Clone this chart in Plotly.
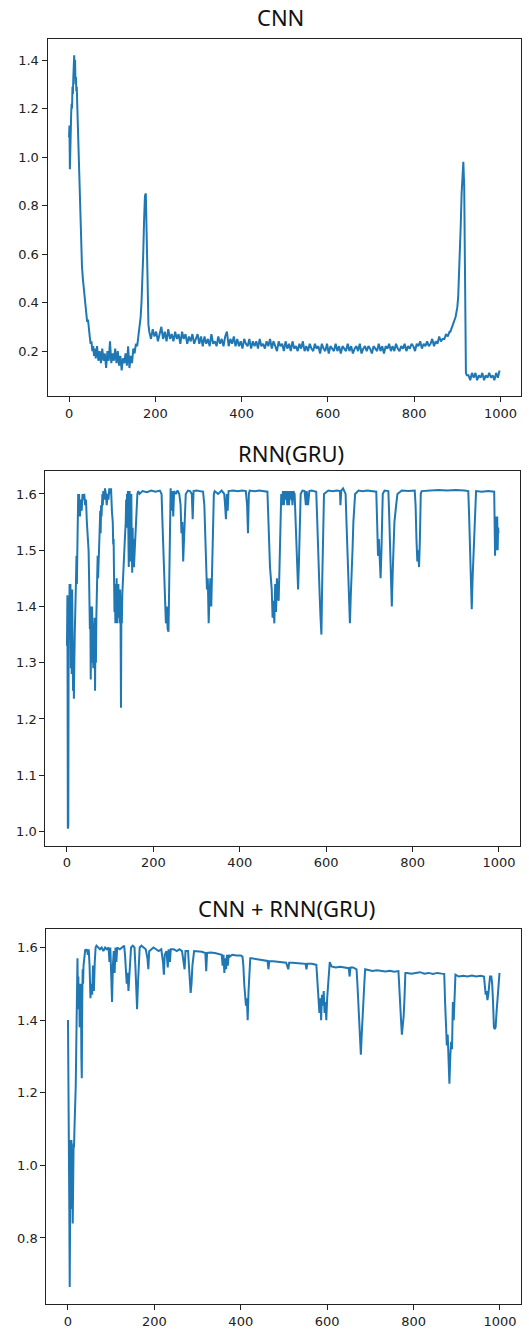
import plotly.graph_objects as go

# ---------------- data ----------------
x_tick_vals = [0, 200, 400, 600, 800, 1000]
x_tick_text = ["0", "200", "400", "600", "800", "1000"]

cnn_yticks = [0.2, 0.4, 0.6, 0.8, 1.0, 1.2, 1.4]
cnn_ytext = ["0.2", "0.4", "0.6", "0.8", "1.0", "1.2", "1.4"]
gru_yticks = [1.0, 1.1, 1.2, 1.3, 1.4, 1.5, 1.6]
gru_ytext = ["1.0", "1.1", "1.2", "1.3", "1.4", "1.5", "1.6"]
mix_yticks = [0.8, 1.0, 1.2, 1.4, 1.6]
mix_ytext = ["0.8", "1.0", "1.2", "1.4", "1.6"]

titles = ["CNN", "RNN(GRU)", "CNN + RNN(GRU)"]

# CNN series: sample index positions and values
cnn_x = (list(range(0, 21)) + list(range(22, 61, 2)) + list(range(62, 159, 3))
         + list(range(160, 187, 2)) + list(range(190, 883, 4))
         + list(range(884, 923, 2)) + list(range(926, 999, 4)))
cnn_y = [
    # 0..20
    1.08, 1.13, 0.95, 1.10, 1.05, 1.18, 1.22, 1.20, 1.29, 1.26, 1.33, 1.38, 1.42, 1.35, 1.40,
    1.30, 1.33, 1.27, 1.29, 1.22, 1.15,
    # 22..60
    1.02, 0.90, 0.78, 0.62, 0.55, 0.50, 0.46, 0.41, 0.38, 0.36, 0.32, 0.33, 0.27, 0.26, 0.23,
    0.24, 0.20, 0.22, 0.18, 0.21,
    # 62..158
    0.17, 0.22, 0.16, 0.20, 0.15, 0.21, 0.16, 0.19, 0.13, 0.20, 0.16, 0.24, 0.15, 0.19, 0.16,
    0.21, 0.15, 0.20, 0.14, 0.18, 0.12, 0.17, 0.15, 0.19, 0.14, 0.22, 0.13, 0.18, 0.15, 0.21,
    0.19, 0.23, 0.22,
    # 160..186
    0.25, 0.27, 0.30, 0.34, 0.40, 0.48, 0.60, 0.74, 0.84, 0.85, 0.72, 0.50, 0.31, 0.28,
    # 190..882 (step 4)
    0.25, 0.29, 0.26, 0.28, 0.24, 0.27, 0.30, 0.25, 0.28, 0.24,
    0.29, 0.25, 0.27, 0.24, 0.28, 0.25, 0.27, 0.23, 0.28, 0.25,
    0.27, 0.23, 0.26, 0.24, 0.27, 0.23, 0.25, 0.27, 0.23, 0.26,
    0.22, 0.26, 0.23, 0.25, 0.22, 0.27, 0.23, 0.24, 0.22, 0.26,
    0.23, 0.25, 0.22, 0.26, 0.28, 0.22, 0.25, 0.23, 0.26, 0.22,
    0.25, 0.22, 0.24, 0.21, 0.25, 0.23, 0.22, 0.25, 0.21, 0.24,
    0.22, 0.24, 0.21, 0.25, 0.22, 0.23, 0.21, 0.24, 0.22, 0.25,
    0.21, 0.24, 0.22, 0.20, 0.24, 0.22, 0.23, 0.20, 0.24, 0.21,
    0.23, 0.20, 0.24, 0.21, 0.22, 0.20, 0.23, 0.21, 0.24, 0.20,
    0.22, 0.20, 0.23, 0.21, 0.20, 0.23, 0.21, 0.22, 0.19, 0.23,
    0.21, 0.20, 0.23, 0.19, 0.22, 0.21, 0.20, 0.23, 0.20, 0.22,
    0.19, 0.22, 0.21, 0.20, 0.23, 0.20, 0.22, 0.19, 0.21, 0.22,
    0.20, 0.23, 0.19, 0.21, 0.22, 0.20, 0.22, 0.21, 0.19, 0.22,
    0.21, 0.20, 0.23, 0.20, 0.22, 0.19, 0.22, 0.21, 0.23, 0.20,
    0.22, 0.20, 0.23, 0.21, 0.20, 0.22, 0.21, 0.23, 0.20, 0.22,
    0.21, 0.23, 0.22, 0.20, 0.23, 0.22, 0.24, 0.21, 0.23, 0.22,
    0.24, 0.22, 0.23, 0.25, 0.22, 0.24, 0.23, 0.26, 0.24, 0.25,
    0.25, 0.27, 0.26, 0.28,
    # 884..922
    0.28, 0.29, 0.30, 0.31, 0.32, 0.33, 0.34, 0.36, 0.38, 0.42, 0.50, 0.60, 0.72, 0.85, 0.95,
    0.98, 0.88, 0.45, 0.11, 0.10,
    # 926..998
    0.10, 0.08, 0.11, 0.09, 0.11, 0.08, 0.10, 0.09, 0.11, 0.08, 0.10, 0.09, 0.11, 0.09, 0.10,
    0.08, 0.11, 0.09, 0.12,
]

gru_x = [
    0, 1, 2, 3, 4, 5, 6, 7, 8, 9,
    10, 11, 12, 13, 14, 15, 16, 17, 18, 19,
    20, 21, 22, 23, 24, 25, 26, 27, 28, 29,
    30, 32, 34, 36, 38, 40, 42, 44, 46, 48,
    50, 51, 52, 53, 54, 55, 56, 57, 58, 59,
    60, 61, 62, 63, 64, 65, 66, 67, 68, 69,
    70, 71, 72, 73, 75, 77, 78, 79, 80, 82,
    83, 84, 86, 88, 90, 92, 94, 96, 98, 100,
    102, 104, 106, 107, 108, 109, 110, 111, 112, 113,
    114, 115, 116, 117, 118, 119, 120, 121, 122, 123,
    124, 125, 126, 127, 128, 129, 130, 132, 134, 136,
    137, 138, 139, 140, 141, 142, 143, 144, 145, 146,
    147, 148, 149, 150, 151, 152, 153, 154, 155, 157,
    159, 161, 163, 165, 168, 175, 185, 195, 205, 215,
    219, 221, 223, 225, 227, 229, 231, 233, 235, 237,
    238, 239, 240, 242, 244, 246, 248, 252, 256, 260,
    263, 265, 267, 269, 271, 273, 275, 280, 285, 289,
    291, 293, 300, 308, 315, 318, 320, 322, 324, 326,
    328, 330, 332, 334, 336, 338, 340, 342, 350, 358,
    364, 366, 368, 370, 372, 374, 385, 395, 405, 414,
    417, 419, 421, 423, 435, 445, 455, 464, 466, 468,
    470, 472, 474, 476, 478, 480, 482, 484, 486, 488,
    490, 492, 494, 496, 498, 500, 502, 504, 506, 508,
    510, 512, 514, 516, 518, 520, 522, 524, 527, 529,
    531, 533, 535, 537, 539, 541, 545, 550, 553, 555,
    558, 561, 566, 572, 577, 579, 581, 583, 585, 587,
    589, 591, 593, 595, 605, 615, 625, 632, 633, 635,
    639, 642, 645, 647, 649, 651, 653, 655, 657, 659,
    661, 663, 665, 667, 675, 685, 695, 705, 716, 718,
    720, 722, 724, 726, 728, 730, 731, 735, 744, 746,
    748, 750, 752, 754, 756, 758, 762, 765, 775, 790,
    805, 807, 809, 811, 813, 815, 817, 819, 821, 840,
    860, 880, 900, 920, 929, 931, 933, 935, 937, 939,
    941, 943, 945, 947, 960, 975, 989, 990, 991, 992,
    993, 994, 995, 996, 997, 998, 999,
]
gru_y = [
    1.33, 1.42, 1.005, 1.01, 1.40, 1.35, 1.44, 1.34, 1.44, 1.29,
    1.40, 1.28, 1.43, 1.38, 1.25, 1.33, 1.236, 1.30, 1.35, 1.42,
    1.38, 1.45, 1.49, 1.44, 1.50, 1.56, 1.60, 1.57, 1.60, 1.58,
    1.56, 1.59, 1.57, 1.60, 1.59, 1.60, 1.58, 1.59, 1.55, 1.53,
    1.50, 1.46, 1.42, 1.36, 1.40, 1.27, 1.38, 1.30, 1.40, 1.33,
    1.38, 1.29, 1.37, 1.32, 1.38, 1.25, 1.36, 1.30, 1.38, 1.44,
    1.41, 1.49, 1.45, 1.50, 1.52, 1.57, 1.53, 1.58, 1.56, 1.60,
    1.58, 1.605, 1.59, 1.61, 1.60, 1.58, 1.60, 1.59, 1.61, 1.60,
    1.61, 1.57, 1.55, 1.51, 1.52, 1.45, 1.39, 1.44, 1.37, 1.42,
    1.38, 1.45, 1.37, 1.43, 1.40, 1.44, 1.38, 1.42, 1.37, 1.43,
    1.38, 1.22, 1.40, 1.37, 1.42, 1.44, 1.47, 1.50, 1.52, 1.55,
    1.59, 1.54, 1.60, 1.57, 1.605, 1.52, 1.47, 1.55, 1.605, 1.55,
    1.48, 1.56, 1.60, 1.50, 1.46, 1.54, 1.47, 1.52, 1.47, 1.50,
    1.55, 1.58, 1.60, 1.605, 1.60, 1.605, 1.603, 1.606, 1.604, 1.606,
    1.60, 1.55, 1.50, 1.46, 1.42, 1.37, 1.40, 1.36, 1.355, 1.45,
    1.55, 1.60, 1.61, 1.57, 1.605, 1.56, 1.605, 1.60, 1.606, 1.60,
    1.58, 1.53, 1.55, 1.48, 1.52, 1.55, 1.60, 1.606, 1.605, 1.60,
    1.555, 1.605, 1.606, 1.605, 1.604, 1.58, 1.52, 1.47, 1.43, 1.45,
    1.37, 1.42, 1.45, 1.40, 1.47, 1.55, 1.60, 1.605, 1.60, 1.606,
    1.60, 1.58, 1.555, 1.60, 1.57, 1.605, 1.606, 1.605, 1.606, 1.605,
    1.58, 1.53, 1.60, 1.606, 1.605, 1.606, 1.605, 1.604, 1.56, 1.50,
    1.47, 1.45, 1.43, 1.38, 1.41, 1.37, 1.44, 1.39, 1.45, 1.42,
    1.41, 1.47, 1.55, 1.60, 1.58, 1.605, 1.58, 1.605, 1.59, 1.605,
    1.58, 1.605, 1.58, 1.605, 1.59, 1.605, 1.58, 1.605, 1.60, 1.55,
    1.50, 1.47, 1.43, 1.48, 1.55, 1.60, 1.606, 1.605, 1.58, 1.605,
    1.58, 1.605, 1.606, 1.605, 1.604, 1.56, 1.50, 1.47, 1.42, 1.38,
    1.35, 1.45, 1.55, 1.60, 1.606, 1.605, 1.606, 1.605, 1.58, 1.606,
    1.61, 1.606, 1.60, 1.55, 1.50, 1.45, 1.40, 1.37, 1.42, 1.45,
    1.50, 1.55, 1.58, 1.60, 1.606, 1.605, 1.606, 1.605, 1.604, 1.55,
    1.49, 1.52, 1.47, 1.45, 1.50, 1.55, 1.60, 1.606, 1.605, 1.56,
    1.50, 1.45, 1.40, 1.46, 1.50, 1.55, 1.58, 1.60, 1.606, 1.605,
    1.606, 1.58, 1.52, 1.48, 1.50, 1.47, 1.52, 1.60, 1.605, 1.606,
    1.607, 1.606, 1.607, 1.606, 1.605, 1.56, 1.50, 1.45, 1.395, 1.45,
    1.49, 1.52, 1.57, 1.605, 1.604, 1.605, 1.604, 1.55, 1.49, 1.56,
    1.50, 1.55, 1.51, 1.56, 1.50, 1.54, 1.53,
]

mix_x = [
    0, 1, 2, 3, 4, 5, 6, 7, 8, 9,
    10, 11, 12, 13, 14, 15, 16, 17, 18, 19,
    20, 21, 22, 23, 24, 25, 26, 27, 28, 29,
    30, 31, 32, 33, 34, 35, 36, 38, 40, 42,
    44, 46, 48, 50, 52, 54, 56, 58, 60, 62,
    64, 66, 70, 74, 78, 82, 86, 90, 94, 96,
    98, 100, 102, 104, 106, 108, 110, 112, 114, 120,
    126, 130, 132, 134, 136, 138, 140, 142, 144, 146,
    150, 154, 156, 158, 160, 162, 164, 166, 170, 176,
    180, 184, 186, 188, 192, 198, 204, 210, 216, 220,
    222, 224, 228, 231, 233, 236, 238, 245, 252, 258,
    264, 268, 270, 272, 278, 280, 282, 284, 286, 288,
    292, 300, 310, 318, 320, 322, 330, 340, 350, 356,
    358, 360, 362, 364, 366, 368, 370, 372, 375, 380,
    390, 400, 404, 406, 408, 410, 412, 414, 416, 418,
    420, 422, 425, 435, 445, 455, 462, 464, 466, 475,
    485, 495, 505, 510, 512, 520, 530, 540, 550, 552,
    554, 565, 575, 578, 580, 582, 584, 586, 588, 590,
    592, 594, 596, 598, 600, 602, 604, 606, 610, 620,
    630, 640, 650, 652, 654, 660, 668, 670, 672, 674,
    676, 678, 680, 682, 684, 686, 688, 695, 705, 715,
    725, 735, 745, 755, 765, 767, 769, 771, 773, 775,
    777, 779, 781, 785, 795, 805, 815, 825, 835, 845,
    855, 865, 871, 873, 875, 877, 879, 881, 883, 885,
    887, 889, 891, 893, 895, 897, 905, 915, 925, 935,
    945, 955, 963, 965, 967, 969, 971, 973, 975, 977,
    980, 982, 984, 986, 988, 990, 992, 994, 996, 998,
    999,
]
mix_y = [
    1.40, 1.06, 1.07, 0.90, 0.665, 0.95, 1.07, 0.88, 1.07, 0.95,
    1.00, 0.84, 0.95, 1.06, 1.05, 1.10, 1.13, 1.20, 1.22, 1.31,
    1.42, 1.40, 1.57, 1.45, 1.52, 1.43, 1.50, 1.38, 1.46, 1.40,
    1.50, 1.30, 1.24, 1.45, 1.54, 1.50, 1.55, 1.58, 1.595, 1.59,
    1.595, 1.58, 1.595, 1.55, 1.46, 1.50, 1.47, 1.55, 1.48, 1.56,
    1.60, 1.605, 1.60, 1.595, 1.60, 1.59, 1.60, 1.595, 1.60, 1.56,
    1.60, 1.53, 1.45, 1.55, 1.59, 1.53, 1.60, 1.56, 1.60, 1.595,
    1.60, 1.605, 1.58, 1.52, 1.50, 1.53, 1.48, 1.52, 1.55, 1.60,
    1.605, 1.60, 1.55, 1.47, 1.43, 1.50, 1.56, 1.60, 1.605, 1.60,
    1.595, 1.57, 1.54, 1.59, 1.595, 1.60, 1.595, 1.59, 1.595, 1.56,
    1.525, 1.58, 1.59, 1.545, 1.595, 1.56, 1.595, 1.595, 1.59, 1.595,
    1.59, 1.56, 1.54, 1.59, 1.59, 1.55, 1.52, 1.475, 1.50, 1.55,
    1.59, 1.59, 1.588, 1.585, 1.535, 1.585, 1.586, 1.585, 1.582, 1.58,
    1.55, 1.58, 1.53, 1.57, 1.54, 1.58, 1.55, 1.58, 1.575, 1.58,
    1.578, 1.578, 1.575, 1.55, 1.50, 1.47, 1.44, 1.46, 1.40, 1.48,
    1.55, 1.57, 1.57, 1.568, 1.566, 1.565, 1.563, 1.54, 1.562, 1.562,
    1.56, 1.56, 1.558, 1.54, 1.558, 1.558, 1.556, 1.556, 1.555, 1.54,
    1.555, 1.555, 1.552, 1.50, 1.45, 1.42, 1.46, 1.40, 1.47, 1.44,
    1.48, 1.42, 1.45, 1.40, 1.46, 1.50, 1.55, 1.56, 1.548, 1.545,
    1.547, 1.545, 1.543, 1.52, 1.545, 1.545, 1.54, 1.50, 1.45, 1.40,
    1.33, 1.305, 1.36, 1.42, 1.47, 1.50, 1.54, 1.538, 1.535, 1.537,
    1.535, 1.534, 1.536, 1.533, 1.535, 1.50, 1.45, 1.40, 1.36, 1.38,
    1.41, 1.46, 1.53, 1.53, 1.528, 1.53, 1.532, 1.528, 1.53, 1.527,
    1.53, 1.528, 1.527, 1.45, 1.37, 1.33, 1.36, 1.30, 1.225, 1.30,
    1.34, 1.32, 1.45, 1.40, 1.50, 1.525, 1.52, 1.522, 1.52, 1.523,
    1.52, 1.522, 1.52, 1.50, 1.47, 1.48, 1.455, 1.47, 1.50, 1.52,
    1.52, 1.50, 1.45, 1.38, 1.375, 1.38, 1.42, 1.45, 1.50, 1.52,
    1.53,
]

series = [(cnn_x, cnn_y), (gru_x, gru_y), (mix_x, mix_y)]
for sx, sy in series:
    if len(sx) != len(sy):
        raise ValueError(f"length mismatch {len(sx)} vs {len(sy)}")

# ---------------- layout geometry (pixels) ----------------
W, H = 529, 1329
# (left, right, top, bottom) of each plot box in pixels
boxes = [(47.5, 521.1, 39, 397), (45.4, 520.1, 472, 847), (46.4, 521.1, 930, 1306)]
title_pos = [(280.5, 17), (291, 453.5), (286, 909)]
yticks = [(cnn_yticks, cnn_ytext), (gru_yticks, gru_ytext), (mix_yticks, mix_ytext)]

fig = go.Figure()
axis_common = dict(
    showline=True, linecolor="#222222", linewidth=1, mirror=True,
    ticks="outside", ticklen=5, tickwidth=1, tickcolor="#222222",
    showgrid=False, zeroline=False,
    tickfont=dict(family="DejaVu Sans", size=13, color="#222222"),
)

annotations = []
for i, ((sx, sy), (l, r, t, b), (tv, tt), (tx, ty), ttl) in enumerate(
        zip(series, boxes, yticks, title_pos, titles)):
    n = "" if i == 0 else str(i + 1)
    fig.add_trace(go.Scatter(
        x=sx, y=sy, mode="lines",
        line=dict(color="#1f77b4", width=2),
        xaxis="x" + n, yaxis="y" + n, showlegend=False, hoverinfo="skip",
    ))
    lo, hi = min(sy), max(sy)
    pad = 0.05 * (hi - lo)
    xpad = 0.05 * (max(sx) - min(sx))
    fig.update_layout(**{
        "xaxis" + n: dict(
            axis_common, domain=[l / W, r / W], anchor="y" + n,
            range=[min(sx) - xpad, max(sx) + xpad],
            tickvals=x_tick_vals, ticktext=x_tick_text,
        ),
        "yaxis" + n: dict(
            axis_common, domain=[1 - b / H, 1 - t / H], anchor="x" + n,
            range=[lo - pad, hi + pad],
            tickvals=tv, ticktext=tt,
        ),
    })
    annotations.append(dict(
        text=ttl, x=tx / W, y=1 - ty / H, xref="paper", yref="paper",
        xanchor="center", yanchor="middle", showarrow=False,
        font=dict(family="Noto Sans", size=22, color="#111111"),
    ))

fig.update_layout(
    width=W, height=H, autosize=False,
    margin=dict(l=0, r=0, t=0, b=0),
    paper_bgcolor="white", plot_bgcolor="white",
    annotations=annotations,
)

fig.write_html(
    "out.html",
    config={"displayModeBar": False},
    post_script="document.body.style.margin='0';document.body.style.overflow='hidden';",
)
